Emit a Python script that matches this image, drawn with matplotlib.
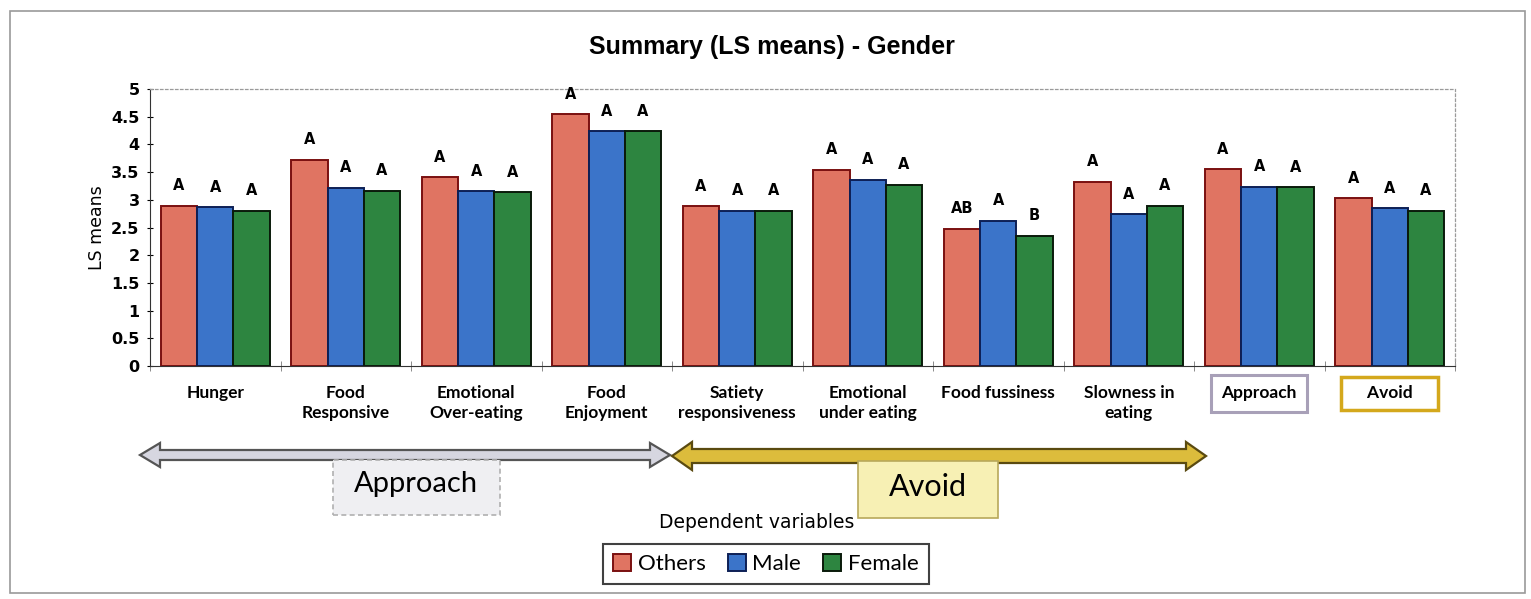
import matplotlib.pyplot as plt
import matplotlib.patches as mpatches
import numpy as np

categories = ['Hunger', 'Food\nResponsive', 'Emotional\nOver-eating', 'Food\nEnjoyment',
              'Satiety\nresponsiveness', 'Emotional\nunder eating', 'Food fussiness',
              'Slowness in\neating', 'Approach', 'Avoid']
others = [2.89, 3.72, 3.41, 4.54, 2.88, 3.54, 2.48, 3.33, 3.55, 3.03]
male = [2.87, 3.22, 3.15, 4.24, 2.80, 3.36, 2.62, 2.74, 3.24, 2.85]
female = [2.80, 3.16, 3.14, 4.24, 2.80, 3.27, 2.35, 2.89, 3.23, 2.80]
letters_others = ['A', 'A', 'A', 'A', 'A', 'A', 'AB', 'A', 'A', 'A']
letters_male = ['A'] * 10
letters_female = ['A', 'A', 'A', 'A', 'A', 'A', 'B', 'A', 'A', 'A']
series = ['Others', 'Male', 'Female']

W, H = 1531, 599
fig = plt.figure(figsize=(W / 100, H / 100), dpi=100)
ax = fig.add_axes([150 / W, 1 - 366 / H, 1305 / W, 277 / H])

# outer chart frame
fig.patches.append(mpatches.Rectangle((10 / W, 6 / H), 1515 / W, 582 / H, transform=fig.transFigure,
                                      fill=False, edgecolor='#9a9a9a', lw=1.2))

x = np.arange(len(categories))
bw = 0.278
colors = ['#e07462', '#3b74c9', '#2d8540']
edges = ['#7a1010', '#0d1f55', '#0a1a0a']
vals = [others, male, female]
labs = [letters_others, letters_male, letters_female]
for i, (v, c, e, name, lt) in enumerate(zip(vals, colors, edges, series, labs)):
    pos = x + (i - 1) * bw
    ax.bar(pos, v, bw, color=c, edgecolor=e, linewidth=1.4, label=name)
    for px, py, t in zip(pos, v, lt):
        ax.text(px, py + 0.36, t, ha='center', va='center', fontsize=10.5, fontweight='bold',
                family='DejaVu Sans')

ax.set_xlim(-0.5, len(categories) - 0.5)
ax.set_ylim(0, 5)
ax.set_yticks(np.arange(0, 5.01, 0.5))
ax.set_yticklabels(['0', '0.5', '1', '1.5', '2', '2.5', '3', '3.5', '4', '4.5', '5'],
                   fontsize=11.5, fontweight='bold')
ax.tick_params(axis='y', direction='inout', length=5, pad=5)
ax.set_xticks(x)
# the boxed "Avoid" label gets some padding so its box is as wide as in the original
tick_text = [c if c != 'Avoid' else '    Avoid    ' for c in categories]
ax.set_xticklabels(tick_text, fontsize=12.5, fontweight='bold', family='Lato', linespacing=1.25)
ax.tick_params(axis='x', length=0, pad=14)
ax.set_xticks(np.arange(-0.5, len(categories)), minor=True)
ax.tick_params(axis='x', which='minor', direction='inout', length=7, color='#777777')
ax.set_ylabel('LS means', fontsize=12.5, labelpad=4)

for s in ['top', 'right']:
    ax.spines[s].set_linestyle((0, (2, 2)))
    ax.spines[s].set_color('#9a9a9a')
    ax.spines[s].set_linewidth(0.9)
ax.spines['left'].set_color('#333333')
ax.spines['bottom'].set_color('#333333')

tl = ax.get_xticklabels()
tl[8].set_bbox(dict(boxstyle='square,pad=0.6', fc='white', ec='#a8a0b8', lw=2.2))
tl[9].set_bbox(dict(boxstyle='square,pad=0.5', fc='white', ec='#d4a81c', lw=2.5))

fig.text(772 / W, 1 - 47 / H, 'Summary (LS means) - Gender', ha='center', va='center',
         fontsize=18, fontweight='bold', family='Liberation Sans')


def double_arrow(x0, x1, yc, sh, hh, fc, ec):
    hl = 20
    pts = [(x0, yc), (x0 + hl, yc + hh), (x0 + hl, yc + sh), (x1 - hl, yc + sh), (x1 - hl, yc + hh),
           (x1, yc), (x1 - hl, yc - hh), (x1 - hl, yc - sh), (x0 + hl, yc - sh), (x0 + hl, yc - hh)]
    pts = [(px / W, 1 - py / H) for px, py in pts]
    fig.patches.append(mpatches.Polygon(pts, closed=True, transform=fig.transFigure,
                                        fc=fc, ec=ec, lw=1.6))


double_arrow(140, 670, 455, 5, 12, '#d6d6e0', '#555555')
double_arrow(672, 1206, 456, 7, 14, '#dcbc3c', '#5a4a10')

fig.patches.append(mpatches.Rectangle((333 / W, 1 - 515 / H), 167 / W, 55 / H, transform=fig.transFigure,
                                      fc='#efeff2', ec='#b0b0b0', lw=1.2, ls=(0, (3, 2))))
fig.text(416 / W, 1 - 484 / H, 'Approach', ha='center', va='center', fontsize=21, family='Lato')
fig.patches.append(mpatches.Rectangle((858 / W, 1 - 518 / H), 140 / W, 57 / H, transform=fig.transFigure,
                                      fc='#f7f0b4', ec='#b8a85a', lw=1.2))
fig.text(928 / W, 1 - 487 / H, 'Avoid', ha='center', va='center', fontsize=22, family='Lato')

fig.text(757 / W, 1 - 522 / H, 'Dependent variables', ha='center', va='center', fontsize=13.5)

leg = fig.legend(loc='center', bbox_to_anchor=(766 / W, 1 - 564 / H), ncol=3, frameon=True,
                 prop={'family': 'Lato', 'size': 16}, handlelength=0.8, handleheight=0.8,
                 handletextpad=0.3, columnspacing=1.0, borderpad=0.45, fancybox=False)
leg.get_frame().set_edgecolor('#111111')
leg.get_frame().set_linewidth(1.5)

fig.savefig('out.png', dpi=100)
